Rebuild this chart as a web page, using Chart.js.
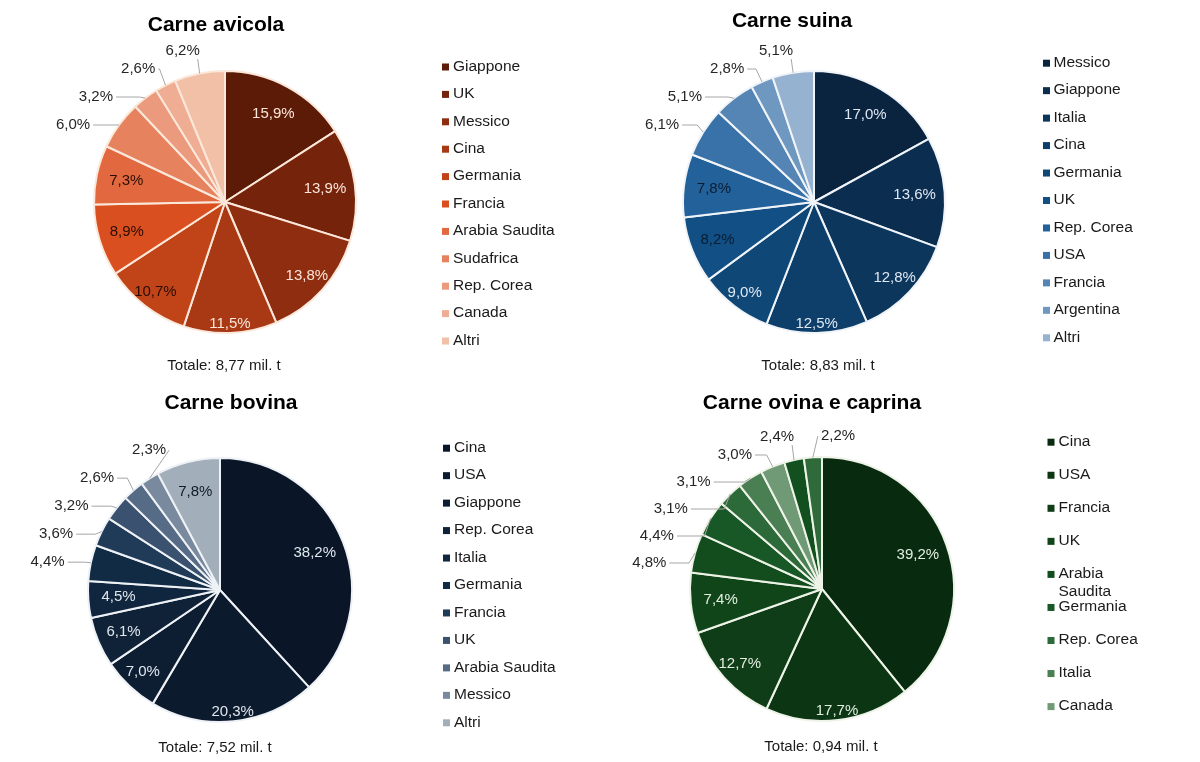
<!DOCTYPE html>
<html lang="it">
<head>
<meta charset="utf-8">
<title>Importazioni di carne - quote per paese</title>
<script src="https://cdn.jsdelivr.net/npm/chart.js@4.4.1/dist/chart.umd.min.js"></script>
<style>
  html, body { margin: 0; padding: 0; background: #fff; }
  #wrap { position: relative; width: 1200px; height: 762px; }
  canvas { position: absolute; }
</style>
</head>
<body>
<div id="wrap">
  <canvas id="avicola" width="600" height="381" style="left:0;top:0"></canvas>
  <canvas id="suina" width="600" height="381" style="left:600px;top:0"></canvas>
  <canvas id="bovina" width="600" height="381" style="left:0;top:381px"></canvas>
  <canvas id="ovina" width="600" height="381" style="left:600px;top:381px"></canvas>
</div>
<script>
const titoli = ['Carne avicola', 'Carne suina', 'Carne bovina', 'Carne ovina e caprina'];
const totali = [8.77, 8.83, 7.52, 0.94]; // milioni di tonnellate

const paesiAvicola = ['Giappone', 'UK', 'Messico', 'Cina', 'Germania', 'Francia', 'Arabia Saudita', 'Sudafrica', 'Rep. Corea', 'Canada', 'Altri'];
const quoteAvicola = [15.9, 13.9, 13.8, 11.5, 10.7, 8.9, 7.3, 6.0, 3.2, 2.6, 6.2];

const paesiSuina = ['Messico', 'Giappone', 'Italia', 'Cina', 'Germania', 'UK', 'Rep. Corea', 'USA', 'Francia', 'Argentina', 'Altri'];
const quoteSuina = [17.0, 13.6, 12.8, 12.5, 9.0, 8.2, 7.8, 6.1, 5.1, 2.8, 5.1];

const paesiBovina = ['Cina', 'USA', 'Giappone', 'Rep. Corea', 'Italia', 'Germania', 'Francia', 'UK', 'Arabia Saudita', 'Messico', 'Altri'];
const quoteBovina = [38.2, 20.3, 7.0, 6.1, 4.5, 4.4, 3.6, 3.2, 2.6, 2.3, 7.8];

// the original legend only lists 9 names, the last two slices have none
const paesiOvina = ['Cina', 'USA', 'Francia', 'UK', 'Arabia Saudita', 'Germania', 'Rep. Corea', 'Italia', 'Canada'];
const quoteOvina = [39.2, 17.7, 12.7, 7.4, 4.8, 4.4, 3.1, 3.1, 3.0, 2.4, 2.2];

// colours
const coloriAvicola = ['#5c1b07', '#76230c', '#8f2d10', '#a83914', '#c14419', '#da4f1f', '#e2693f', '#e7825f', '#eb9a7d', '#efae94', '#f2c0a7'];
const coloriSuina = ['#0a2440', '#0b2d50', '#0c365c', '#0d3f6a', '#0f4777', '#114f84', '#22619a', '#3872a8', '#5485b4', '#6f98c0', '#95b2d1'];
const coloriBovina = ['#0a1627', '#0c1a2d', '#0d1e33', '#0f2238', '#10263e', '#122b45', '#203b58', '#3a5270', '#566b85', '#798a9f', '#a3aebb'];
const coloriOvina = ['#082b0f', '#0c3514', '#0e3d17', '#10451a', '#134d1e', '#185826', '#2d6a39', '#4a7e53', '#6f9a75', '#13501f', '#2e6a3a'];

const FONT = '"Liberation Sans", Arial, Helvetica, sans-serif';
const rad = d => d * Math.PI / 180;
const fmt = v => v.toFixed(1).replace('.', ',') + '%';

// spread the outside labels so they don't overlap (y relative to the centre)
function disponi(lista, limite, passo) {
  const y = lista.map(e => e.y);
  for (let it = 0; it < 300; it++) {
    if (y[0] < limite) y[0] = limite;
    for (let j = 1; j < y.length; j++) {
      const gap = y[j] - y[j - 1];
      if (gap < passo) {
        const d = (passo - gap) / 2;
        y[j - 1] -= d;
        y[j] += d;
      }
    }
  }
  if (y.length) y[0] = Math.max(y[0], limite);
  for (let j = 1; j < y.length; j++) y[j] = Math.max(y[j], y[j - 1] + passo);
  lista.forEach((e, j) => e.y = y[j]);
}

function etichette(st) {
  return {
    id: 'etichette',
    afterDatasetsDraw(chart) {
      const ctx = chart.ctx;
      const arcs = chart.getDatasetMeta(0).data;
      const valori = chart.data.datasets[0].data;
      ctx.save();
      ctx.font = '15px ' + FONT;
      ctx.textBaseline = 'middle';

      const sinistra = [], alto = [], destra = [];
      let cx = 0, cy = 0, r = 0;
      arcs.forEach((arc, i) => {
        const p = arc.getProps(['x', 'y', 'startAngle', 'endAngle', 'outerRadius'], true);
        cx = p.x; cy = p.y; r = p.outerRadius;
        const mid = (p.startAngle + p.endAngle) / 2;
        const testo = fmt(valori[i]);
        if (!st.fuori.includes(i)) {
          const giu = Math.max(0, Math.sin(mid));
          const k = 0.77 + 0.16 * giu * giu;
          ctx.fillStyle = i < st.chiare ? st.chiaro : st.scuro;
          ctx.textAlign = 'center';
          ctx.fillText(testo, p.x + Math.cos(mid) * r * k, p.y + Math.sin(mid) * r * k);
          return;
        }
        let a = (mid + Math.PI / 2) % (2 * Math.PI);
        if (a < 0) a += 2 * Math.PI;
        const e = { a, testo, px: p.x + Math.cos(mid) * r, py: p.y + Math.sin(mid) * r };
        if (a >= Math.PI && a < rad(345)) sinistra.push(e);
        else if (a >= rad(345) && a < rad(354)) alto.push(e);
        else destra.push(e);
      });

      ctx.strokeStyle = '#a6a6a6';
      ctx.lineWidth = 1;
      const linea = pts => {
        ctx.beginPath();
        ctx.moveTo(pts[0][0], pts[0][1]);
        pts.slice(1).forEach(q => ctx.lineTo(q[0], q[1]));
        ctx.stroke();
      };
      const scrivi = (t, x, y, al) => {
        ctx.fillStyle = '#262626';
        ctx.textAlign = al;
        ctx.fillText(t, x, y);
      };

      // labels sitting above the pie
      let cima = null;
      alto.forEach(e => {
        const ty = cy - r - 20;
        const tx = e.px - 17;
        const w = ctx.measureText(e.testo).width;
        const sx = Math.min(Math.max(e.px, tx - w / 2 + 2), tx + w / 2 - 2);
        linea([[sx, ty + 8], [e.px, e.py]]);
        scrivi(e.testo, tx, ty, 'center');
        cima = ty - cy;
      });

      // left column
      const R = r + 14;
      sinistra.sort((u, v) => v.a - u.a);
      sinistra.forEach(e => e.y = -R * Math.cos(e.a));
      disponi(sinistra, cima !== null ? cima + 18 : -R, st.passo);
      sinistra.forEach(e => {
        const tx = cx - (Math.sqrt(Math.max(0, R * R - e.y * e.y)) + 12);
        const ty = cy + e.y;
        const pts = [[tx + 3, ty]];
        if (e.px - 6 > tx + 3) pts.push([e.px - 6, ty]);
        pts.push([e.px, e.py]);
        linea(pts);
        scrivi(e.testo, tx, ty, 'right');
      });

      // right side
      destra.forEach(e => {
        let tx, ty;
        if (e.a >= rad(354) || e.a < rad(15)) {
          tx = e.px + 8;
          ty = cy - r - 21;
        } else {
          tx = cx + R * Math.sin(e.a) + 12;
          ty = cy - R * Math.cos(e.a);
        }
        const pts = [[tx - 3, ty]];
        if (e.px + 6 < tx - 3) pts.push([e.px + 6, ty]);
        pts.push([e.px, e.py]);
        linea(pts);
        scrivi(e.testo, tx, ty, 'left');
      });
      ctx.restore();
    },
    afterDraw(chart) {
      const ctx = chart.ctx;
      ctx.save();
      ctx.textBaseline = 'middle';
      ctx.textAlign = 'center';
      ctx.fillStyle = '#000';
      ctx.font = 'bold 21px ' + FONT;
      ctx.fillText(st.titolo, st.titoloX, st.titoloY);
      ctx.font = '15px ' + FONT;
      ctx.fillStyle = '#1a1a1a';
      ctx.fillText('Totale: ' + st.totale.toFixed(2).replace('.', ',') + ' mil. t', st.totX, st.totY);

      // legend
      ctx.font = '15.5px ' + FONT;
      ctx.textAlign = 'left';
      const colori = chart.data.datasets[0].backgroundColor;
      st.paesi.forEach((nome, i) => {
        const y = st.legY + i * st.legPasso;
        ctx.fillStyle = colori[i];
        ctx.fillRect(st.legX, y - 3, 7, 7);
        ctx.fillStyle = '#1a1a1a';
        let righe = [nome];
        if (st.legMax && ctx.measureText(nome).width > st.legMax) righe = nome.split(' ');
        righe.forEach((t, k) => ctx.fillText(t, st.legX + st.legTesto, y + k * 18));
      });
      ctx.restore();
    }
  };
}

function creaTorta(id, paesi, quote, colori, st) {
  const canvas = document.getElementById(id);
  const W = canvas.width, H = canvas.height;
  const box = st.r + 8;
  st.paesi = paesi;
  return new Chart(canvas, {
    type: 'pie',
    data: {
      labels: paesi,
      datasets: [{
        data: quote,
        backgroundColor: colori,
        borderColor: st.bordo,
        borderWidth: 2,
        radius: st.r
      }]
    },
    options: {
      responsive: false,
      animation: false,
      events: [],
      layout: {
        padding: { left: st.cx - box, right: W - st.cx - box, top: st.cy - box, bottom: H - st.cy - box }
      },
      plugins: {
        legend: { display: false },
        title: { display: false },
        tooltip: { enabled: false }
      }
    },
    plugins: [etichette(st)]
  });
}

creaTorta('avicola', paesiAvicola, quoteAvicola, coloriAvicola, {
  titolo: titoli[0], totale: totali[0],
  cx: 225, cy: 202, r: 131,
  titoloX: 216, titoloY: 25, totX: 224, totY: 366,
  legX: 442, legTesto: 11, legY: 66.5, legPasso: 27.4,
  fuori: [7, 8, 9, 10], chiare: 4, passo: 28,
  bordo: '#fbe8da', chiaro: '#fbe6d9', scuro: '#2b0c03'
});

creaTorta('suina', paesiSuina, quoteSuina, coloriSuina, {
  titolo: titoli[1], totale: totali[1],
  cx: 214, cy: 202, r: 131,
  titoloX: 192, titoloY: 21, totX: 218, totY: 366,
  legX: 443, legTesto: 10.5, legY: 62.7, legPasso: 27.46,
  fuori: [7, 8, 9, 10], chiare: 5, passo: 28,
  bordo: '#f0f4f8', chiaro: '#dfe8f2', scuro: '#0a1d33'
});

creaTorta('bovina', paesiBovina, quoteBovina, coloriBovina, {
  titolo: titoli[2], totale: totali[2],
  cx: 220, cy: 209, r: 132,
  titoloX: 231, titoloY: 22, totX: 215, totY: 367,
  legX: 443, legTesto: 11, legY: 66.7, legPasso: 27.46,
  fuori: [5, 6, 7, 8, 9], chiare: 5, passo: 28,
  bordo: '#eef1f5', chiaro: '#e0e6ee', scuro: '#111c29'
});

creaTorta('ovina', paesiOvina, quoteOvina, coloriOvina, {
  titolo: titoli[3], totale: totali[3],
  cx: 222, cy: 208, r: 132,
  titoloX: 212, titoloY: 22, totX: 221, totY: 366,
  legX: 447.5, legTesto: 11, legY: 60.7, legPasso: 33.05, legMax: 90,
  fuori: [4, 5, 6, 7, 8, 9, 10], chiare: 4, passo: 27,
  bordo: '#eef3e8', chiaro: '#e4eee0', scuro: '#10261a'
});
</script>
</body>
</html>
